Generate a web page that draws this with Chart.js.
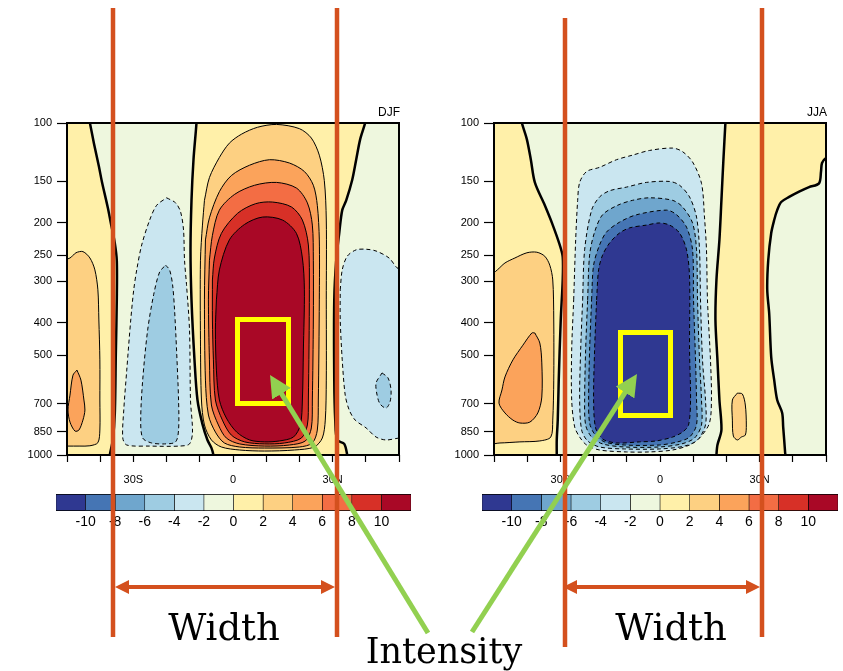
<!DOCTYPE html>
<html>
<head>
<meta charset="utf-8">
<title>Hadley cell streamfunction DJF / JJA</title>
<script src="https://cdn.jsdelivr.net/npm/chart.js@4.4.1/dist/chart.umd.min.js"></script>
<style>
  html, body { margin: 0; padding: 0; background: #fff; }
  body { width: 843px; height: 671px; position: relative; overflow: hidden; }
  canvas { position: absolute; }
  #notes { position: absolute; left: 0; top: 0; }
</style>
</head>
<body>
<canvas id="djf" width="410" height="400" style="left:0;top:100px"></canvas>
<canvas id="jja" width="410" height="400" style="left:427px;top:100px"></canvas>
<canvas id="djf-bar" width="375" height="41" style="left:46px;top:490px"></canvas>
<canvas id="jja-bar" width="376" height="41" style="left:472px;top:490px"></canvas>

<svg id="notes" width="843" height="671" xmlns="http://www.w3.org/2000/svg">
  <defs>
    <marker id="head" markerUnits="userSpaceOnUse" markerWidth="22" markerHeight="22" refX="10" refY="11" orient="auto">
      <path d="M0,0 L22,11 L0,22 Z" fill="#92d050"/>
    </marker>
  </defs>
  <!-- yellow boxes -->
  <rect x="237.5" y="319.5" width="51" height="84" fill="none" stroke="#ffff00" stroke-width="5"/>
  <rect x="620.5" y="332.5" width="50" height="83" fill="none" stroke="#ffff00" stroke-width="5"/>
  <!-- width markers -->
  <g stroke="#d4501e" stroke-width="4.5">
    <line x1="113" y1="8" x2="113" y2="637"/>
    <line x1="337" y1="8" x2="337" y2="637"/>
    <line x1="565" y1="18" x2="565" y2="647"/>
    <line x1="762" y1="8" x2="762" y2="637"/>
    <line x1="125" y1="587" x2="325" y2="587" stroke-width="4"/>
    <line x1="577" y1="587" x2="750" y2="587" stroke-width="4"/>
  </g>
  <g fill="#d4501e">
    <path d="M115,587 L129,580 L129,594 Z"/>
    <path d="M335,587 L321,580 L321,594 Z"/>
    <path d="M563,587 L577,580 L577,594 Z"/>
    <path d="M760,587 L746,580 L746,594 Z"/>
  </g>
  <!-- intensity arrows -->
  <g stroke="#92d050" stroke-width="5">
    <line x1="428" y1="633" x2="276.3" y2="385.2" marker-end="url(#head)"/>
    <line x1="472" y1="632" x2="630.5" y2="384.1" marker-end="url(#head)"/>
  </g>
  <g font-family="DejaVu Serif, serif" fill="#000" text-anchor="middle">
    <text x="224" y="640" font-size="37">Width</text>
    <text x="671" y="640" font-size="37">Width</text>
    <text x="444" y="663" font-size="35">Intensity</text>
  </g>
</svg>

<script>
// ─── Axes / colour levels ────────────────────────────────────────────────
const pressureTicks = [100, 150, 200, 250, 300, 400, 500, 700, 850, 1000];
const latTicks      = [-50, -40, -30, -20, -10, 0, 10, 20, 30, 40, 50];
const latLabels     = { "-30": "30S", "0": "0", "30": "30N" };
const levels        = [-10, -8, -6, -4, -2, 0, 2, 4, 6, 8, 10];
const levelColors   = ["#2f3891", "#4575b4", "#6fa6cd", "#9ecce2", "#cae6f0", "#eef7de",
                       "#fff0a9", "#fdd082", "#fba35b", "#f36d44", "#d73027", "#a90826"];

// ─── DJF contours: [latitude, hPa] ──────────────────────────────────────
const djfZeroWest = [[-43.5,96],[-43.1,100],[-41.9,115],[-40.4,135],[-39.5,150],[-37.7,180],[-36.8,200],[-35.6,230],[-35.0,260],[-35.0,340],[-35.3,500],[-35.6,750],[-36.2,900],[-37.1,1000],[-37.2,1040],[-55,1040],[-55,96]];
const djfPos2West = [[-55,268],[-49.1,255],[-47.3,246],[-45.2,244],[-43.1,255],[-41.6,277],[-40.7,318],[-40.4,392],[-40.1,517],[-40.1,683],[-40.1,841],[-40.7,918],[-43.1,938],[-46.1,940],[-50,940],[-55,940]];
const djfPos4West = [[-47,555],[-45.8,595],[-44.9,683],[-44.6,732],[-45.2,785],[-46.4,841],[-47.6,847],[-49.1,796],[-49.7,732],[-49.1,660],[-48.2,575]];
const djfNeg2South = [[-20,168],[-17.3,174],[-15.8,185],[-14.9,210],[-14.6,259],[-14,307],[-13.1,420],[-12.8,683],[-12.2,853],[-13.1,926],[-16.1,940],[-25.1,940],[-32,933],[-33.2,889],[-32.9,732],[-32,555],[-30.8,392],[-29.9,318],[-29,277],[-27.5,233],[-25.1,196],[-23,177]];
const djfNeg4South = [[-20.3,268],[-19.1,277],[-18.2,307],[-17.6,366],[-17.0,483],[-16.4,683],[-16.4,841],[-17.3,913],[-20.6,926],[-24.5,920],[-27.2,889],[-27.8,785],[-27.2,595],[-25.7,420],[-23.9,329],[-22.1,281]];
const djfZeroMid = [[-11,96],[-11,100],[-11.9,129],[-12.5,171],[-12.8,241],[-12.5,341],[-11.6,517],[-10.7,683],[-9.2,807],[-7.7,901],[-6.5,952],[-5.9,1000],[-5.8,1040],[34.5,1040],[34.4,1000],[33.5,926],[31.4,901],[30.8,785],[30.5,595],[30.5,341],[31.1,259],[32,214.5],[32.9,183],[34.1,171],[35.9,148.5],[37.1,129],[38.3,112],[39.8,100],[40,96]];
const djfPos2 = [[-8.6,171],[-7.1,146],[-4.1,127],[-1.1,115],[2.6,108],[7.4,103],[13.1,101],[20,104],[23.6,111],[26,125],[27.5,149],[28.1,196],[28.1,341],[28.1,595],[27.8,785],[26.9,889],[24.5,946],[18.5,966],[9.5,973],[2,966],[-3.5,946],[-6.5,901],[-8.6,812],[-9.5,683],[-9.8,450],[-9.8,259],[-9.2,203]];
const djfPos4 = [[-8.3,225],[-7.1,193],[-4.1,161],[-0.5,144],[5,134],[11,129],[17,132],[21.5,140],[24.2,154],[25.4,177],[26,225],[26,341],[25.7,683],[25.4,841],[23.9,920],[20,946],[9.5,953],[2,946],[-2.6,920],[-5.3,853],[-7.4,758],[-8.3,595],[-8.6,341]];
const djfPos6 = [[-7.1,259],[-6.2,218],[-4.1,183],[0.5,164],[6.5,154],[13.1,151],[19.1,157],[22.4,174],[23.9,203],[24.2,259],[24.2,392],[23.9,683],[23.6,829],[21.8,907],[17,933],[9.5,940],[2,926],[-2,889],[-4.4,812],[-6.5,707],[-7.1,517],[-7.4,341]];
const djfPos8 = [[-6.2,297],[-5.6,255],[-3.5,215],[1.4,187],[6.8,175],[11.9,173],[17.6,179],[20.9,196],[22.7,233],[23,318],[22.7,683],[22.4,812],[20.6,889],[15.5,920],[9.5,926],[3.5,913],[-0.5,871],[-3.2,785],[-5.3,683],[-5.9,517],[-6.2,392]];
const djfPos10 = [[-5,341],[-4.1,277],[-1.1,225],[3.5,202],[8.9,192],[14.9,196],[19.1,215],[20.9,255],[21.5,318],[21.2,483],[20.9,683],[20.3,812],[18.2,883],[14,907],[9.5,913],[5,901],[1.1,853],[-2,774],[-4.1,683],[-5,555],[-5.3,420]];
const djfNeg2East = [[32.3,318],[32.9,277],[34.4,252],[37.1,241],[40.1,240],[43.1,243],[47,255],[49.4,273],[51.5,281],[51.5,889],[50,889],[46.1,901],[43.1,883],[40.1,829],[36.8,785],[35,732],[33.8,660],[32.9,517],[32.3,392]];
const djfNeg4East = [[44.9,566],[46.7,586],[47.6,637],[47.3,692],[46.1,722],[44.3,702],[43.4,660],[43.1,607]];

// ─── JJA contours: [latitude, hPa] ──────────────────────────────────────
const jjaZeroWest = [[-41.8,96],[-41.6,100],[-40.1,112],[-38.9,129],[-37.7,151],[-34.7,177],[-32.3,203],[-30.2,233],[-29.3,253],[-29.3,297],[-29.9,392],[-30.5,595],[-30.8,785],[-31.1,901],[-31.1,1000],[-31.1,1040],[-55,1040],[-55,96]];
const jjaPos2West = [[-55,287],[-51.1,287],[-49,277],[-46.7,264],[-43.7,255],[-40.1,246],[-37.1,245],[-34.7,252],[-33.2,268],[-32.3,297],[-32,392],[-32,595],[-32.3,785],[-32.9,883],[-36.2,907],[-42.2,913],[-48.2,920],[-55,920]];
const jjaPos4West = [[-37.7,429],[-36.2,460],[-35.6,528],[-35.6,669],[-36.8,747],[-39.2,796],[-42.2,801],[-44.3,785],[-46.7,747],[-48.5,698],[-47.6,637],[-46.7,582],[-44.3,517],[-41.3,467],[-38.6,429]];
const jjaZeroMid = [[19.8,96],[19.7,100],[19.1,129],[18.5,171],[17.9,225],[17.0,297],[16.7,392],[17.3,517],[17.9,683],[18.5,841],[17.3,933],[17.0,1000],[17.0,1040],[37.8,1040],[37.7,986],[37.1,823],[36.8,747],[35.3,683],[34.4,595],[33.5,507],[32.9,376],[32.3,318],[32.6,259],[33.5,214.5],[34.4,196],[35.3,183],[36.5,173],[38.9,167],[41.9,161],[44.9,156],[47.9,152],[48.5,140],[48.8,132],[50,127.5],[52,126],[52,96]];
const jjaPos2Mid = [[23.3,651],[24.8,655],[25.7,707],[26,812],[25.7,871],[24.5,883],[23.3,901],[22.1,877],[21.8,785],[21.8,683]];
const jjaNeg2 = [[-26,341],[-25.4,225],[-24.8,171],[-24.2,151],[-22.1,140],[-18.2,136],[-13.1,129],[-8.3,125],[-3.2,121],[3.8,119],[6.8,122],[9.8,131],[12.5,152],[13.4,192],[14,241],[14.3,341],[15.2,517],[15.5,669],[14.9,801],[11.9,889],[8.9,933],[3.8,966],[-3.2,979],[-10.1,979],[-18.2,966],[-22.1,933],[-24.2,883],[-25.7,823],[-26.6,683],[-26.6,483]];
const jjaNeg4 = [[-23.3,341],[-22.7,241],[-20.6,183],[-18.2,167],[-15.2,160],[-10.1,156],[-4.1,151],[2.9,150],[5.9,154],[8.9,167],[11,192],[11.9,241],[12.2,341],[12.8,517],[13.7,683],[13.7,812],[11.3,901],[7.4,940],[-0.2,959],[-10.7,959],[-18.2,946],[-21.8,907],[-23.6,841],[-24.2,683],[-23.9,483]];
const jjaNeg6 = [[-21.8,341],[-21.2,250],[-19.7,213],[-17.3,189],[-12.8,177],[-8.3,171],[-3.2,168],[3.8,171],[6.8,179],[9.8,200],[11,241],[11.3,341],[11.9,517],[12.5,683],[12.5,812],[10.4,889],[6.5,926],[-0.2,946],[-10.7,946],[-17.3,926],[-20.6,883],[-22.4,812],[-22.7,683],[-22.4,483]];
const jjaNeg8 = [[-20.6,341],[-20,268],[-18.2,233],[-16.1,213],[-12.2,199],[-7.1,189],[2,183],[5,189],[8,206],[9.8,241],[10.1,341],[10.7,517],[11,683],[11,812],[8.9,883],[5.3,913],[-0.2,933],[-10.7,933],[-16.7,913],[-19.7,865],[-21.2,801],[-21.5,683],[-21.2,483]];
const jjaNeg10 = [[-19.1,341],[-18.5,277],[-17.3,250],[-15.2,230],[-12.2,214.5],[-9.2,207],[-4.1,203],[-0.2,200],[2.9,203],[5.9,214.5],[8,241],[8.9,291],[8.9,483],[9.2,683],[8.6,812],[6.8,853],[3.8,883],[-1.1,907],[-6.2,913],[-13.1,920],[-17.3,895],[-19.4,829],[-20,683],[-19.7,483]];

// ─── Layer lists (bottom first): colour band + contour style ─────────────
const djfLayers = [
  { pts: djfZeroWest,  band: 6,  line: "zero" },
  { pts: djfPos2West,  band: 7,  line: "pos" },
  { pts: djfPos4West,  band: 8,  line: "pos" },
  { pts: djfNeg2South, band: 4,  line: "neg" },
  { pts: djfNeg4South, band: 3,  line: "neg" },
  { pts: djfZeroMid,   band: 6,  line: "zero" },
  { pts: djfPos2,      band: 7,  line: "pos" },
  { pts: djfPos4,      band: 8,  line: "pos" },
  { pts: djfPos6,      band: 9,  line: "pos" },
  { pts: djfPos8,      band: 10, line: "pos" },
  { pts: djfPos10,     band: 11, line: "pos" },
  { pts: djfNeg2East,  band: 4,  line: "neg" },
  { pts: djfNeg4East,  band: 3,  line: "neg" },
];
const jjaLayers = [
  { pts: jjaZeroWest,  band: 6,  line: "zero" },
  { pts: jjaPos2West,  band: 7,  line: "pos" },
  { pts: jjaPos4West,  band: 8,  line: "pos" },
  { pts: jjaZeroMid,   band: 6,  line: "zero" },
  { pts: jjaPos2Mid,   band: 7,  line: "pos" },
  { pts: jjaNeg2,      band: 4,  line: "neg" },
  { pts: jjaNeg4,      band: 3,  line: "neg" },
  { pts: jjaNeg6,      band: 2,  line: "neg" },
  { pts: jjaNeg8,      band: 1,  line: "neg" },
  { pts: jjaNeg10,     band: 0,  line: "neg" },
];

Chart.defaults.font.family = "'Liberation Sans', Arial, sans-serif";
Chart.defaults.color = "#000";

// background (-2..0 band) + black frame around the plot area
const plotFrame = {
  id: "plotFrame",
  beforeDatasetsDraw(chart) {
    const { ctx, chartArea: a } = chart;
    ctx.save();
    ctx.fillStyle = levelColors[5];
    ctx.fillRect(a.left, a.top, a.right - a.left, a.bottom - a.top);
    ctx.restore();
  },
  afterDatasetsDraw(chart) {
    const { ctx, chartArea: a } = chart;
    ctx.save();
    ctx.strokeStyle = "#000";
    ctx.lineWidth = 2;
    ctx.strokeRect(a.left, a.top, a.right - a.left, a.bottom - a.top);
    ctx.restore();
  },
};

function contourChart(id, title, layers) {
  const datasets = layers.map(l => ({
    data: l.pts.concat([l.pts[0]]).map(([x, y]) => ({ x, y })),
    showLine: true,
    fill: "shape",
    backgroundColor: levelColors[l.band],
    borderColor: "#000",
    borderWidth: l.line === "zero" ? 2.5 : 1,
    borderDash: l.line === "neg" ? [4, 3] : [],
    pointRadius: 0,
    tension: 0.3,
    capBezierPoints: false,
    clip: 0,
  })).reverse();   // first dataset is painted last

  return new Chart(document.getElementById(id), {
    type: "scatter",
    data: { datasets },
    options: {
      animation: false,
      responsive: false,
      events: [],
      layout: { padding: { top: 5, right: 10, left: 0, bottom: 0 } },
      plugins: {
        legend:  { display: false },
        tooltip: { enabled: false },
        title: {
          display: true, text: title, align: "end", color: "#000",
          font: { size: 12, weight: "normal" }, padding: { top: 0, bottom: 3.6 },
        },
      },
      scales: {
        x: {
          type: "linear", min: -50, max: 50,
          afterBuildTicks: s => { s.ticks = latTicks.map(v => ({ value: v })); },
          afterFit: s => { s.height = 45; },
          ticks: { autoSkip: false, maxRotation: 0, padding: 11, font: { size: 11 },
                   callback: v => latLabels[v] ?? "" },
          grid: { drawOnChartArea: false, tickLength: 7, tickColor: "#000", tickWidth: 1.2 },
          border: { display: false },
        },
        y: {
          type: "logarithmic", min: 100, max: 1000, reverse: true,
          afterBuildTicks: s => { s.ticks = pressureTicks.map(v => ({ value: v })); },
          afterFit: s => { s.width = 67; },
          ticks: { autoSkip: false, padding: 5, font: { size: 11 }, callback: v => String(v) },
          grid: { drawOnChartArea: false, tickLength: 10, tickColor: "#000", tickWidth: 1.2 },
          border: { display: false },
        },
      },
    },
    plugins: [plotFrame],
  });
}

function colorBar(id) {
  return new Chart(document.getElementById(id), {
    type: "bar",
    data: {
      labels: [""],
      datasets: levelColors.map(c => ({
        data: [1], backgroundColor: c, borderColor: "#000",
        borderWidth: { top: 1, bottom: 1, left: 0.6, right: 0.6 }, borderSkipped: false,
        barPercentage: 1, categoryPercentage: 1,
      })),
    },
    options: {
      indexAxis: "y",
      animation: false,
      responsive: false,
      events: [],
      layout: { padding: { left: 10, right: 10, top: 4, bottom: 0 } },
      plugins: { legend: { display: false }, tooltip: { enabled: false } },
      scales: {
        x: {
          stacked: true, min: 0, max: levelColors.length,
          afterBuildTicks: s => { s.ticks = levels.map((v, i) => ({ value: i + 1 })); },
          afterFit: s => { s.height = 20; },
          ticks: { autoSkip: false, maxRotation: 0, padding: 3, font: { size: 14 },
                   callback: v => String(levels[v - 1]) },
          grid: { drawOnChartArea: false, drawTicks: false },
          border: { display: false },
        },
        y: { stacked: true, display: false },
      },
    },
  });
}

contourChart("djf", "DJF", djfLayers);
contourChart("jja", "JJA", jjaLayers);
colorBar("djf-bar");
colorBar("jja-bar");
</script>
</body>
</html>
